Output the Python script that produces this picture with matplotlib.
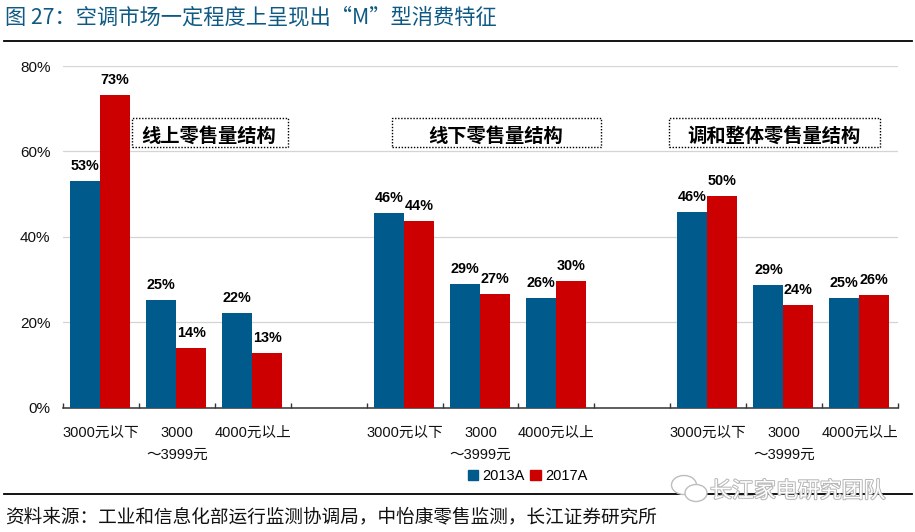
import matplotlib
matplotlib.use("Agg")
import matplotlib.pyplot as plt
import matplotlib.patheffects as pe
from matplotlib.patches import Rectangle, Ellipse
from matplotlib.lines import Line2D

FONT = ['Liberation Sans', 'Noto Sans CJK SC', 'DejaVu Sans']
CJK = ['Noto Sans CJK SC', 'Liberation Sans', 'DejaVu Sans']
plt.rcParams['font.family'] = FONT

W, H = 915, 532
TITLE = '图 27：空调市场一定程度上呈现出“M”型消费特征'
SOURCE = '资料来源：工业和信息化部运行监测协调局，中怡康零售监测，长江证券研究所'
WATERMARK = '长江家电研究团队'
price_labels = ['3000元以下', '3000\n～3999元', '4000元以上']
panel_titles = ['线上零售量结构', '线下零售量结构', '调和整体零售量结构']
series_names = ['2013A', '2017A']
positions = [0, 1, 2, 4, 5, 6, 8, 9, 10]
v2013 = [53.0, 25.2, 22.1, 45.6, 28.9, 25.6, 45.8, 28.7, 25.6]
v2017 = [73.2, 14.0, 12.8, 43.7, 26.6, 29.6, 49.6, 24.0, 26.3]
l2013 = ['53%', '25%', '22%', '46%', '29%', '26%', '46%', '29%', '25%']
l2017 = ['73%', '14%', '13%', '44%', '27%', '30%', '50%', '24%', '26%']
yticks = [0, 20, 40, 60, 80]
BLUE, RED = '#005A8C', '#CC0000'

def fx(px): return px / W
def fy(py): return 1 - py / H

fig = plt.figure(figsize=(W / 100, H / 100), dpi=100, facecolor='white')
L, R, T, B = 63, 898, 66, 407.5
ax = fig.add_axes([fx(L), fy(B), fx(R - L), (B - T) / H])
ax.set_xlim(-0.5, 10.5)
ax.set_ylim(0, 80)

bw = 0.395
xs1 = [p - bw / 2 - 0.01 for p in positions]
xs2 = [p + bw / 2 - 0.01 for p in positions]
ax.bar(xs1, v2013, bw, color=BLUE, zorder=3)
ax.bar(xs2, v2017, bw, color=RED, zorder=3)
for xs, vals, labs in ((xs1, v2013, l2013), (xs2, v2017, l2017)):
    for x, v, s in zip(xs, vals, labs):
        ax.annotate(s, (x, v), xytext=(0, 8), textcoords='offset pixels', ha='center', va='bottom',
                    fontsize=10.4, fontweight='bold', zorder=5)

for s in ['top', 'left', 'right']:
    ax.spines[s].set_visible(False)
ax.spines['bottom'].set_color('#333333')
ax.spines['bottom'].set_linewidth(1.1)
ax.set_yticks(yticks)
ax.set_yticklabels([f'{t}%' for t in yticks], fontsize=11, color='#111111')
ax.tick_params(axis='y', length=0, pad=9)
ax.grid(axis='y', color='#D4D4D4', linewidth=0.9, zorder=0)
ax.set_axisbelow(True)
ax.set_xticks([i - 0.5 for i in range(12)])
ax.tick_params(axis='x', which='major', direction='in', length=3.5, width=1.0,
               color='#333333', labelbottom=False)
ax.set_xticks(positions, minor=True)
ax.set_xticklabels(price_labels * 3, minor=True, fontsize=10.5, linespacing=1.75, color='#111111')
ax.tick_params(axis='x', which='minor', length=0, pad=13)

# dotted panel title boxes
for (x0, x1), t in zip([(132, 288), (392, 601), (669, 880)], panel_titles):
    fig.add_artist(Rectangle((fx(x0), fy(147)), fx(x1 - x0), (147 - 118) / H, transform=fig.transFigure,
                             fill=False, edgecolor='black', linewidth=1.0, linestyle=(0, (1, 1.2))))
    fig.text(fx((x0 + x1) / 2 - 1), fy(136.5), t, ha='center', va='center', fontsize=13.9, fontweight='bold')

# rules
fig.add_artist(Line2D([fx(4), fx(912)], [fy(41), fy(41)], color='black', linewidth=1.3))
fig.add_artist(Line2D([fx(4), fx(912)], [fy(494), fy(494)], color='black', linewidth=1.3))

fig.text(fx(5), fy(17), TITLE, fontsize=15.3, color='#0F5A85', ha='left', va='center', family=CJK)
fig.text(fx(5), fy(517), SOURCE, fontsize=13.4, color='#111111', ha='left', va='center', family=CJK)

# legend
h = [Rectangle((0, 0), 1, 1, color=BLUE), Rectangle((0, 0), 1, 1, color=RED)]
fig.legend(h, series_names, loc='center', bbox_to_anchor=(fx(527.5), fy(476)), ncol=2, frameon=False,
           fontsize=10.5, handlelength=0.7, handleheight=0.75, handletextpad=0.3, columnspacing=0.4)

# watermark
for (cx, cy, ew, eh) in [(684, 485, 25, 19), (696, 493, 22, 17)]:
    fig.add_artist(Ellipse((fx(cx), fy(cy)), fx(ew), eh / H, transform=fig.transFigure, facecolor='white',
                           edgecolor='#BDBDBD', linewidth=1.0, zorder=9))
fig.text(fx(798), fy(492), WATERMARK, fontsize=15.8, color='white', ha='center', va='center', zorder=10,
         path_effects=[pe.withStroke(linewidth=1.4, foreground='#B5B5B5')])

fig.savefig('out.png', dpi=100)
